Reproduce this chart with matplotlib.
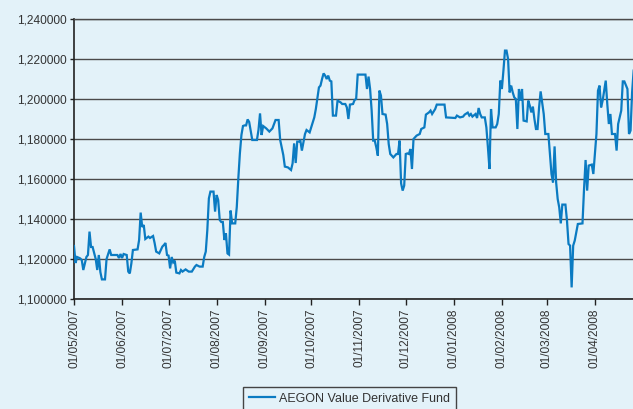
import pandas as pd
import matplotlib
matplotlib.use("Agg")
import matplotlib.pyplot as plt
import matplotlib.dates as mdates
from matplotlib.ticker import FuncFormatter, MultipleLocator

# ---------------------------------------------------------------------------
# Data
# ---------------------------------------------------------------------------

SERIES_NAME = "AEGON Value Derivative Fund"

DATES = [
    "2007-05-01", "2007-05-02", "2007-05-03", "2007-05-05", "2007-05-06", "2007-05-07",
    "2007-05-09", "2007-05-10", "2007-05-11", "2007-05-12", "2007-05-13", "2007-05-15",
    "2007-05-16", "2007-05-17", "2007-05-18", "2007-05-19", "2007-05-21", "2007-05-22",
    "2007-05-24", "2007-05-25", "2007-05-29", "2007-05-30", "2007-05-31", "2007-06-01",
    "2007-06-02", "2007-06-04", "2007-06-05", "2007-06-06", "2007-06-07", "2007-06-08",
    "2007-06-11", "2007-06-12", "2007-06-13", "2007-06-14", "2007-06-15", "2007-06-16",
    "2007-06-18", "2007-06-19", "2007-06-21", "2007-06-22", "2007-06-23", "2007-06-25",
    "2007-06-27", "2007-06-28", "2007-06-29", "2007-06-30", "2007-07-01", "2007-07-02",
    "2007-07-03", "2007-07-04", "2007-07-05", "2007-07-06", "2007-07-08", "2007-07-09",
    "2007-07-10", "2007-07-12", "2007-07-14", "2007-07-16", "2007-07-18", "2007-07-19",
    "2007-07-21", "2007-07-23", "2007-07-24", "2007-07-25", "2007-07-26", "2007-07-27",
    "2007-07-28", "2007-07-30", "2007-07-31", "2007-08-01", "2007-08-02", "2007-08-03",
    "2007-08-04", "2007-08-05", "2007-08-06", "2007-08-07", "2007-08-08", "2007-08-09",
    "2007-08-10", "2007-08-11", "2007-08-13", "2007-08-14", "2007-08-15", "2007-08-16",
    "2007-08-17", "2007-08-18", "2007-08-19", "2007-08-20", "2007-08-21", "2007-08-22",
    "2007-08-24", "2007-08-27", "2007-08-28", "2007-08-29", "2007-08-30", "2007-08-31",
    "2007-09-02", "2007-09-04", "2007-09-06", "2007-09-08", "2007-09-10", "2007-09-11",
    "2007-09-13", "2007-09-14", "2007-09-16", "2007-09-18", "2007-09-19", "2007-09-20",
    "2007-09-21", "2007-09-22", "2007-09-23", "2007-09-24", "2007-09-25", "2007-09-27",
    "2007-09-28", "2007-09-30", "2007-10-01", "2007-10-02", "2007-10-03", "2007-10-04",
    "2007-10-06", "2007-10-07", "2007-10-08", "2007-10-09", "2007-10-10", "2007-10-11",
    "2007-10-12", "2007-10-13", "2007-10-14", "2007-10-15", "2007-10-17", "2007-10-18",
    "2007-10-20", "2007-10-21", "2007-10-23", "2007-10-24", "2007-10-25", "2007-10-26",
    "2007-10-28", "2007-10-29", "2007-10-30", "2007-10-31", "2007-11-05", "2007-11-06",
    "2007-11-07", "2007-11-08", "2007-11-09", "2007-11-10", "2007-11-11", "2007-11-12",
    "2007-11-13", "2007-11-14", "2007-11-15", "2007-11-16", "2007-11-18", "2007-11-19",
    "2007-11-20", "2007-11-21", "2007-11-23", "2007-11-25", "2007-11-26", "2007-11-27",
    "2007-11-28", "2007-11-29", "2007-11-30", "2007-12-01", "2007-12-02", "2007-12-03",
    "2007-12-04", "2007-12-05", "2007-12-06", "2007-12-08", "2007-12-10", "2007-12-11",
    "2007-12-13", "2007-12-14", "2007-12-16", "2007-12-17", "2007-12-18", "2007-12-20",
    "2007-12-21", "2007-12-26", "2007-12-27", "2008-01-02", "2008-01-03", "2008-01-05",
    "2008-01-07", "2008-01-08", "2008-01-10", "2008-01-11", "2008-01-12", "2008-01-13",
    "2008-01-15", "2008-01-16", "2008-01-17", "2008-01-18", "2008-01-19", "2008-01-21",
    "2008-01-22", "2008-01-23", "2008-01-24", "2008-01-25", "2008-01-26", "2008-01-28",
    "2008-01-29", "2008-01-30", "2008-01-31", "2008-02-01", "2008-02-02", "2008-02-03",
    "2008-02-04", "2008-02-05", "2008-02-06", "2008-02-07", "2008-02-08", "2008-02-09",
    "2008-02-10", "2008-02-11", "2008-02-12", "2008-02-13", "2008-02-14", "2008-02-15",
    "2008-02-17", "2008-02-18", "2008-02-19", "2008-02-20", "2008-02-21", "2008-02-22",
    "2008-02-23", "2008-02-24", "2008-02-25", "2008-02-26", "2008-02-28", "2008-02-29",
    "2008-03-02", "2008-03-03", "2008-03-04", "2008-03-05", "2008-03-06", "2008-03-07",
    "2008-03-08", "2008-03-09", "2008-03-10", "2008-03-11", "2008-03-13", "2008-03-14",
    "2008-03-15", "2008-03-16", "2008-03-17", "2008-03-18", "2008-03-19", "2008-03-21",
    "2008-03-24", "2008-03-25", "2008-03-26", "2008-03-27", "2008-03-28", "2008-03-30",
    "2008-03-31", "2008-04-01", "2008-04-02", "2008-04-03", "2008-04-04", "2008-04-05",
    "2008-04-06", "2008-04-08", "2008-04-09", "2008-04-10", "2008-04-11", "2008-04-12",
    "2008-04-14", "2008-04-15", "2008-04-16", "2008-04-18", "2008-04-19", "2008-04-20",
    "2008-04-22", "2008-04-23", "2008-04-24", "2008-04-25", "2008-04-26",
]

VALUES = [
    1.1265, 1.1180, 1.1210, 1.1203, 1.1195, 1.1145,
    1.1210, 1.1220, 1.1337, 1.1260, 1.1260, 1.1200,
    1.1145, 1.1220, 1.1135, 1.1098, 1.1098, 1.1200,
    1.1248, 1.1220, 1.1220, 1.1205, 1.1225, 1.1205,
    1.1225, 1.1220, 1.1137, 1.1128, 1.1178, 1.1245,
    1.1248, 1.1295, 1.1432, 1.1360, 1.1370, 1.1300,
    1.1312, 1.1305, 1.1315, 1.1280, 1.1237, 1.1228,
    1.1262, 1.1270, 1.1280, 1.1220, 1.1217, 1.1153,
    1.1210, 1.1183, 1.1192, 1.1132, 1.1128, 1.1145,
    1.1137, 1.1148, 1.1137, 1.1137, 1.1162, 1.1170,
    1.1162, 1.1162, 1.1210, 1.1237, 1.1345, 1.1503,
    1.1537, 1.1537, 1.1437, 1.1520, 1.1495, 1.1395,
    1.1385, 1.1385, 1.1295, 1.1328, 1.1228, 1.1222,
    1.1442, 1.1378, 1.1378, 1.1460, 1.1603, 1.1728,
    1.1820, 1.1865, 1.1868, 1.1868, 1.1898, 1.1885,
    1.1795, 1.1795, 1.1845, 1.1928, 1.1820, 1.1865,
    1.1853, 1.1837, 1.1853, 1.1895, 1.1895, 1.1795,
    1.1720, 1.1662, 1.1658, 1.1645, 1.1678, 1.1778,
    1.1680, 1.1787, 1.1787, 1.1792, 1.1742, 1.1825,
    1.1845, 1.1833, 1.1858, 1.1883, 1.1908, 1.1950,
    1.2058, 1.2067, 1.2100, 1.2128, 1.2117, 1.2100,
    1.2117, 1.2092, 1.2088, 1.1917, 1.1917, 1.1992,
    1.1983, 1.1975, 1.1975, 1.1958, 1.1900, 1.1972,
    1.1975, 1.1995, 1.2000, 1.2122, 1.2122, 1.2050,
    1.2112, 1.2050, 1.1942, 1.1792, 1.1792, 1.1758,
    1.1717, 1.2042, 1.2017, 1.1925, 1.1922, 1.1875,
    1.1775, 1.1725, 1.1708, 1.1725, 1.1725, 1.1792,
    1.1578, 1.1542, 1.1567, 1.1725, 1.1728, 1.1725,
    1.1750, 1.1650, 1.1800, 1.1817, 1.1825, 1.1850,
    1.1858, 1.1922, 1.1933, 1.1942, 1.1925, 1.1950,
    1.1972, 1.1972, 1.1908, 1.1905, 1.1917, 1.1908,
    1.1912, 1.1922, 1.1932, 1.1917, 1.1925, 1.1912,
    1.1925, 1.1905, 1.1955, 1.1925, 1.1908, 1.1908,
    1.1858, 1.1758, 1.1650, 1.1950, 1.1858, 1.1858,
    1.1875, 1.1925, 1.2092, 1.2050, 1.2142, 1.2242,
    1.2242, 1.2200, 1.2033, 1.2067, 1.2033, 1.2008,
    1.2000, 1.1850, 1.2050, 1.1992, 1.2050, 1.1892,
    1.1888, 1.1992, 1.1967, 1.1933, 1.1962, 1.1900,
    1.1850, 1.1850, 1.1958, 1.2038, 1.1925, 1.1825,
    1.1825, 1.1725, 1.1625, 1.1583, 1.1763, 1.1583,
    1.1500, 1.1458, 1.1378, 1.1472, 1.1472, 1.1392,
    1.1275, 1.1267, 1.1058, 1.1267, 1.1292, 1.1375,
    1.1378, 1.1550, 1.1695, 1.1542, 1.1667, 1.1672,
    1.1625, 1.1725, 1.1825, 1.2042, 1.2067, 1.1958,
    1.1992, 1.2092, 1.1975, 1.1875, 1.1925, 1.1825,
    1.1825, 1.1742, 1.1875, 1.1942, 1.2088, 1.2088,
    1.2050, 1.1825, 1.1842, 1.2033, 1.2142,
]

Y_MIN, Y_MAX, Y_STEP = 1.10, 1.24, 0.02
X_START = "2007-05-01"
X_END = "2008-04-25 14:00"

# ---------------------------------------------------------------------------
# Style
# ---------------------------------------------------------------------------

BG_COLOR = "#e3f2f9"
LINE_COLOR = "#0b7bc2"
GRID_COLOR = "#4a4a4a"
TEXT_COLOR = "#333333"

plt.rcParams["font.family"] = ["Liberation Sans", "DejaVu Sans"]
FONT_TICK = 8.6
FONT_LEGEND = 9

# ---------------------------------------------------------------------------
# Plot
# ---------------------------------------------------------------------------

dates = pd.to_datetime(DATES)

fig = plt.figure(figsize=(6.33, 4.09), dpi=100, facecolor=BG_COLOR)
ax = fig.add_axes([74 / 633, 110 / 409, 559 / 633, 280 / 409])
ax.set_facecolor(BG_COLOR)

line, = ax.plot(dates, VALUES, color=LINE_COLOR, lw=1.6, label=SERIES_NAME,
                solid_joinstyle="miter", zorder=3)

ax.set_xlim(pd.Timestamp(X_START), pd.Timestamp(X_END))
ax.set_ylim(Y_MIN, Y_MAX)
ax.yaxis.set_major_locator(MultipleLocator(Y_STEP))
ax.yaxis.set_major_formatter(
    FuncFormatter(lambda v, _: f"{v:.6f}".replace(".", ",")))
ax.xaxis.set_major_locator(mdates.MonthLocator())
ax.xaxis.set_major_formatter(mdates.DateFormatter("%d/%m/%Y"))

ax.grid(True, axis="y", color=GRID_COLOR, lw=1.0)
ax.set_axisbelow(True)

ax.tick_params(axis="both", direction="out", color="#222222", width=1.0,
               labelsize=FONT_TICK, labelcolor=TEXT_COLOR)
ax.tick_params(axis="y", length=3, pad=2)
ax.tick_params(axis="x", length=4, pad=3)
for lbl in ax.get_xticklabels():
    lbl.set_rotation(90)

ax.spines["right"].set_visible(False)
ax.spines["top"].set_color(GRID_COLOR)
ax.spines["top"].set_linewidth(1.0)
ax.spines["left"].set_color("#222222")
ax.spines["bottom"].set_color("#222222")
ax.spines["left"].set_linewidth(1.2)
ax.spines["bottom"].set_linewidth(1.2)

leg = fig.legend(handles=[line], loc="upper left",
                 bbox_to_anchor=(243 / 633, 1 - 387 / 409),
                 fontsize=FONT_LEGEND, frameon=True, fancybox=False,
                 facecolor=BG_COLOR, edgecolor="#444444", framealpha=1,
                 handlelength=2.1, handletextpad=0.35, borderpad=0.45,
                 borderaxespad=0)
leg.get_frame().set_linewidth(1.0)
for t in leg.get_texts():
    t.set_color(TEXT_COLOR)

fig.savefig("out.png", dpi=100, facecolor=BG_COLOR)
